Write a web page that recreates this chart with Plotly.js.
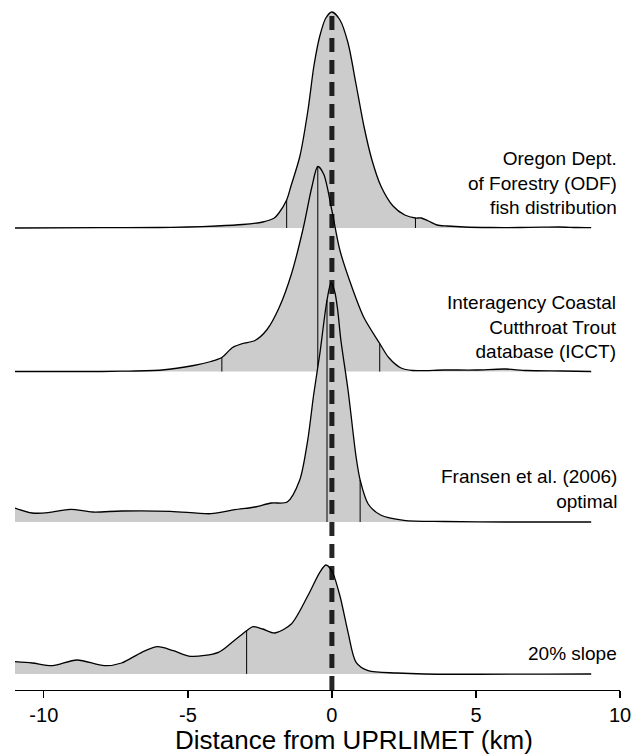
<!DOCTYPE html>
<html><head><meta charset="utf-8">
<script src="https://cdn.plot.ly/plotly-3.0.1.min.js"></script>
<style>html,body{margin:0;padding:0;background:#fff}#chart{width:634px;height:756px}</style>
</head><body><div id="chart"></div>
<script>
// ---- data (distance from UPRLIMET in km, scaled kernel density) ----
const seriesLabels = [
  "Oregon Dept.<br>of Forestry (ODF)<br>fish distribution",
  "Interagency Coastal<br>Cutthroat Trout<br>database (ICCT)",
  "Fransen et al. (2006)<br>optimal",
  "20% slope"
];
const baselines = [4.62, 3.185, 1.68, 0.16];

const odfX = [-11,-8,-6,-5,-4,-3.1,-2.4,-2.0,-1.84,-1.57,-1.42,-1.11,-0.83,-0.625,-0.42,-0.21,0,0.28,0.56,0.83,1.11,1.39,1.70,2.12,2.53,2.9,3.1,3.35,3.65,4.0,4.6,5.5,6.5,7.3,7.9,8.5,9];
const odfD = [0,0.003,0.005,0.01,0.02,0.035,0.06,0.10,0.15,0.28,0.42,0.72,1.18,1.62,1.92,2.10,2.16,2.08,1.85,1.45,1.02,0.68,0.42,0.22,0.13,0.10,0.10,0.07,0.03,0.02,0.01,0.005,0.005,0.008,0.01,0.005,0.003];

const icctX = [-11,-8,-7.3,-5.9,-4.8,-4.2,-3.82,-3.45,-3.1,-2.67,-2.25,-1.83,-1.41,-0.99,-0.70,-0.49,-0.28,0,0.28,0.70,1.11,1.66,1.97,2.4,2.8,3.9,5,6.0,6.75,8,9];
const icctD = [0,0,0.003,0.015,0.06,0.10,0.14,0.24,0.28,0.31,0.42,0.64,0.97,1.44,1.84,2.05,1.97,1.61,1.21,0.84,0.54,0.28,0.14,0.035,0.01,0.015,0.015,0.025,0.01,0.005,0];

const fransenX = [-11,-10.4,-9.85,-9.07,-8.3,-7.3,-5.6,-4.2,-3.37,-2.67,-2.1,-1.55,-1.12,-0.84,-0.63,-0.42,-0.17,-0.03,0.1,0.2,0.31,0.56,0.84,0.98,1.26,1.69,2.5,3.9,6,9];
const fransenD = [0.14,0.09,0.093,0.127,0.10,0.11,0.107,0.083,0.123,0.15,0.19,0.20,0.417,0.817,1.28,1.68,2.22,2.39,2.30,2.12,1.82,1.32,0.65,0.42,0.18,0.07,0.017,0.005,0,0];

const slopeX = [-11,-10.4,-9.7,-8.85,-7.9,-7.3,-6.6,-6.05,-5.5,-4.9,-3.94,-3.4,-2.96,-2.74,-2.4,-1.98,-1.41,-0.84,-0.42,-0.21,0,0.28,0.56,0.84,1.26,2.25,3.2,9];
const slopeD = [0.123,0.11,0.083,0.14,0.083,0.11,0.217,0.273,0.233,0.177,0.217,0.333,0.433,0.473,0.45,0.41,0.50,0.78,1.017,1.09,1.03,0.78,0.417,0.117,0.033,0.01,0,0];

const odfQuant = [-1.57, 2.9];
const icctQuant = [-3.82, -0.49, 1.66];
const fransenQuant = [-0.17, 0.98];
const slopeQuant = [-2.96];

const tickVals = [-10, -5, 0, 5, 10];
const tickText = ["-10", "-5", "0", "5", "10"];
const xTitle = "Distance from UPRLIMET (km)";
const referenceX = 0;

// ---- build ----
const xs = [odfX, icctX, fransenX, slopeX];
const ds = [odfD, icctD, fransenD, slopeD];
const qs = [odfQuant, icctQuant, fransenQuant, slopeQuant];

function interp(xArr, dArr, x) {
  for (let i = 0; i < xArr.length - 1; i++) {
    if (x >= xArr[i] && x <= xArr[i+1]) {
      const t = (x - xArr[i]) / (xArr[i+1] - xArr[i]);
      return dArr[i] + t * (dArr[i+1] - dArr[i]);
    }
  }
  return 0;
}

const traces = [];
for (let i = 0; i < xs.length; i++) {
  const off = baselines[i];
  traces.push({x: xs[i], y: xs[i].map(() => off), mode: 'lines', line: {width: 0, color: 'rgba(0,0,0,0)'}, hoverinfo: 'skip', showlegend: false});
  traces.push({x: xs[i], y: ds[i].map(d => d + off), mode: 'lines', fill: 'tonexty', fillcolor: '#cccccc',
    line: {color: '#000', width: 1.3, shape: 'spline', smoothing: 0.8}, showlegend: false, hoverinfo: 'skip'});
  const qx = [], qy = [];
  qs[i].forEach(q => { qx.push(q, q, null); qy.push(off, off + interp(xs[i], ds[i], q), null); });
  traces.push({x: qx, y: qy, mode: 'lines', line: {color: '#000', width: 1}, showlegend: false, hoverinfo: 'skip'});
}

const annotations = seriesLabels.map((t, i) => ({
  text: t, xref: 'paper', x: 1, xanchor: 'right', xshift: -1, yref: 'y', y: baselines[i] + 0.08, yanchor: 'bottom',
  align: 'right', showarrow: false, font: {family: 'Liberation Sans, Arial, sans-serif', size: 19, color: '#000'}
}));
annotations.push({text: xTitle, xref: 'paper', x: 0.56, xanchor: 'center', yref: 'paper', y: -0.0964, yanchor: 'bottom',
  borderpad: 0, showarrow: false, font: {family: 'Liberation Sans, Arial, sans-serif', size: 26, color: '#000'}});

const layout = {
  width: 634, height: 756,
  margin: {l: 15, r: 14, t: 5, b: 66},
  paper_bgcolor: '#fff', plot_bgcolor: '#fff',
  font: {family: 'Liberation Sans, Arial, sans-serif', color: '#000'},
  showlegend: false,
  xaxis: {range: [-11, 10], tickvals: tickVals, ticktext: tickText, ticks: 'outside', ticklen: 7, tickwidth: 1.3,
    tickcolor: '#000', showline: true, linecolor: '#000', linewidth: 1.3, showgrid: false, zeroline: false,
    tickfont: {size: 20, color: '#000'}, fixedrange: true},
  yaxis: {range: [0, 6.85], visible: false, fixedrange: true},
  shapes: [{type: 'line', xref: 'x', yref: 'y', x0: referenceX, x1: referenceX, y0: 0, y1: 6.76,
    line: {color: 'rgba(0,0,0,0.85)', width: 5, dash: '14px,8px'}, layer: 'above'}],
  annotations: annotations
};

Plotly.newPlot('chart', traces, layout, {staticPlot: true, displayModeBar: false});
</script>
</body></html>
